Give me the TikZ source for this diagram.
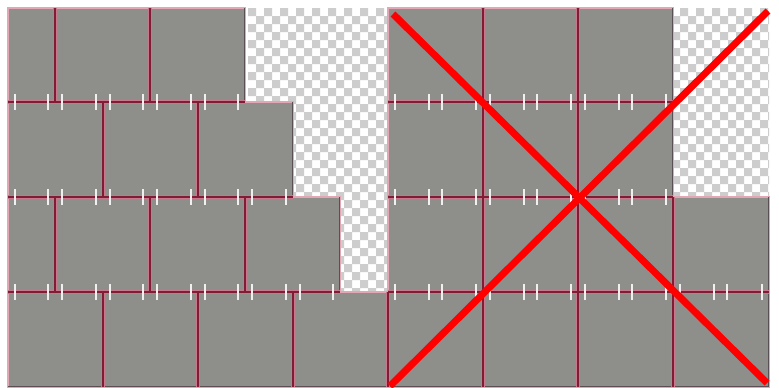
\documentclass[tikz,border=0pt]{standalone}
\definecolor{tilegray}{RGB}{142,142,139}
\definecolor{tileedge}{RGB}{226,166,180}
\definecolor{jointc}{RGB}{128,28,52}
\definecolor{jointhi}{RGB}{200,120,140}
\definecolor{chk}{RGB}{205,205,205}
\definecolor{tickc}{RGB}{240,240,240}
\definecolor{shade}{RGB}{88,80,84}
\begin{document}
\begin{tikzpicture}[x=1pt,y=-1pt,
  tile/.style={fill=tilegray,draw=tileedge,line width=1.4pt},
  jointhigh/.style={draw=jointhi,line width=3.4pt},
  jointline/.style={draw=jointc,line width=1.8pt},
  shadeline/.style={draw=shade,line width=1pt},
  tickmark/.style={draw=tickc,line width=2.2pt},
  cross/.style={draw=red,line width=7pt}]
\useasboundingbox (0,0) rectangle (779,388);
\fill[white] (0,0) rectangle (779,388);
% transparent (checkerboard) regions
\begin{scope}
\clip (245,8) rectangle (388,102) (293,102) rectangle (388,197)
      (340,197) rectangle (388,292) (673,8) rectangle (769,197);
\fill[chk] \foreach \j in {0,...,36} { \foreach \k in {0,...,33} {
  ({248+16*\k+8*mod(\j,2)}, {8+8*\j}) rectangle ++(8,8) } };
\end{scope}
% tiles, left panel
\foreach \a/\b/\c/\d in {
  8/8/55/102, 55/8/150/102, 150/8/245/102,
  8/102/103/197, 103/102/198/197, 198/102/293/197,
  8/197/55/292, 55/197/150/292, 150/197/245/292, 245/197/340/292,
  8/292/103/387, 103/292/198/387, 198/292/293/387, 293/292/388/387}
  \path[tile] (\a,\b) rectangle (\c,\d);
% tiles, right panel
\foreach \a/\b/\c/\d in {
  388/8/483/102, 483/8/578/102, 578/8/673/102,
  388/102/483/197, 483/102/578/197, 578/102/673/197,
  388/197/483/292, 483/197/578/292, 578/197/673/292, 673/197/769/292,
  388/292/483/387, 483/292/578/387, 578/292/673/387, 673/292/769/387}
  \path[tile] (\a,\b) rectangle (\c,\d);
% shadows on right and bottom outer edges
\foreach \a/\b/\c/\d in {244/8/244/102, 292/102/292/197, 339/197/339/292,
  672/8/672/197, 768/197/768/387, 8/386/768/386}
  \path[shadeline] (\a,\b) -- (\c,\d);
% joints: highlight underlay, then dark line
\foreach \s in {jointhigh, jointline} {
  \foreach \a/\b/\c in {8/245/102, 8/293/197, 8/340/292,
    388/673/102, 388/673/197, 388/769/292}
    \path[\s] (\a,\c) -- (\b,\c);
  \foreach \a/\b/\c in {55/8/102, 150/8/102, 103/102/197, 198/102/197,
    55/197/292, 150/197/292, 245/197/292,
    103/292/387, 198/292/387, 293/292/387, 388/292/387,
    483/8/387, 578/8/387, 673/197/387}
    \path[\s] (\a,\b) -- (\a,\c);
}
% ticks
\foreach \y/\list in {102/{15,48,62,96,110,143,157,191,205,238},
  197/{15,48,62,96,110,143,157,191,205,238,252,286},
  292/{15,48,62,96,110,143,157,191,205,238,252,286,300,333},
  102/{395,429,442,476,490,524,537,571,585,619,632,666},
  197/{395,429,442,476,490,524,537,571,585,619,632,666},
  292/{395,429,442,476,490,524,537,571,585,619,632,666,680,714,727,762}}
  \foreach \x in \list { \path[tickmark] (\x,\y-8) -- (\x,\y+8); };
% red cross
\coordinate (tl) at (393,14);
\coordinate (br) at (767,383);
\coordinate (tr) at (768,11);
\coordinate (bl) at (390,386);
\path[cross] (tl) -- (br);
\path[cross] (tr) -- (bl);
\end{tikzpicture}
\end{document}
